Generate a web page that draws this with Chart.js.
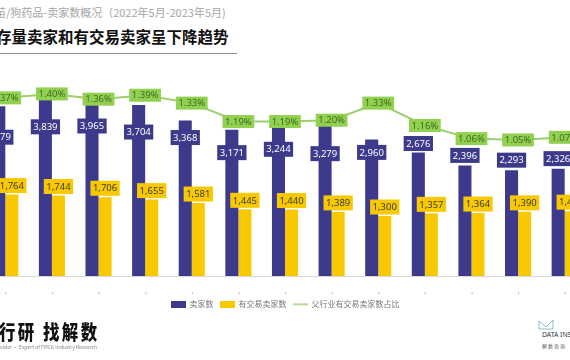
<!DOCTYPE html>
<html>
<head>
<meta charset="utf-8">
<script src="https://cdn.jsdelivr.net/npm/chart.js@4.4.1/dist/chart.umd.min.js"></script>
<style>
  html, body { margin:0; padding:0; background:#fff; }
  body { width:570px; height:360px; overflow:hidden; position:relative;
         font-family:"Noto Sans CJK SC","Noto Sans",sans-serif; }
  #sub { position:absolute; left:-5px; top:4px; font-size:11px; color:#a6a6a6; white-space:nowrap; }
  #title { position:absolute; left:-4px; top:25px; font-size:15.5px; font-weight:bold; color:#111; white-space:nowrap; }
  #rule { position:absolute; left:0; top:53px; width:237px; height:1px; background:#8c8c8c; }
  #wrap { position:absolute; left:-40px; top:60px; width:650px; height:258px; }
  #brand { position:absolute; left:-1px; top:317px; font-size:20px; font-weight:900; color:#111;
           white-space:nowrap; letter-spacing:3px; transform:scaleX(0.82); transform-origin:left top; }
  #slogan { position:absolute; left:-8px; top:343px; font-size:5px; color:#888; white-space:nowrap; }
  #logo { position:absolute; left:538px; top:319px; }
  #logoText { position:absolute; left:542px; top:330px; font-size:6.8px; color:#2b3a4a; white-space:nowrap; font-family:"Noto Sans",sans-serif; }
  #logoSub { position:absolute; left:542px; top:342px; font-size:5px; color:#555; white-space:nowrap; letter-spacing:1px; }
</style>
</head>
<body>
<div id="sub">苗/狗药品-卖家数概况（2022年5月-2023年5月)</div>
<div id="title">存量卖家和有交易卖家呈下降趋势</div>
<div id="rule"></div>
<div id="wrap"><canvas id="chart"></canvas></div>
<div id="brand">行研 找解数</div>
<div id="slogan">Provider · Expert of FMCG Industry Research</div>
<svg id="logo" width="16" height="12" viewBox="0 0 16 12">
  <path d="M1 2 L8 8 L15 1 L15 10 L1 10 Z" fill="none" stroke="#7fb8c8" stroke-width="0.9"/>
</svg>
<div id="logoText">DATA INSIGHT</div>
<div id="logoSub">解数咨询</div>

<script>
// ================== DATA ==================
const months = ["2022-05","2022-06","2022-07","2022-08","2022-09","2022-10","2022-11",
                "2022-12","2023-01","2023-02","2023-03","2023-04","2023-05"];
const sellers = [3679, 3839, 3965, 3704, 3368, 3171, 3244, 3279, 2960, 2676, 2396, 2293, 2326];
const activeSellers = [1764, 1744, 1706, 1655, 1581, 1445, 1440, 1389, 1300, 1357, 1364, 1390, 1405];
const activeShare = [1.37, 1.40, 1.36, 1.39, 1.33, 1.19, 1.19, 1.20, 1.33, 1.16, 1.06, 1.05, 1.07];

// label nudges (px from bar top) so seller labels dodge the line labels
const sellerLabelNudge = [31, 28, 33, 27, 17, 23, 23, 29, 13, -9, -10, -10, -10];

// ================== COLORS ==================
const NAVY = "#3d3a8c";
const YELLOW = "#f8c900";
const GREEN = "#92d050";
const LINE_GREEN = "#9ccf6e";

// legend swatches
function swatch(color, isLine){
  const c = document.createElement("canvas");
  c.width = 15; c.height = 7;
  const g = c.getContext("2d");
  g.fillStyle = color;
  if(isLine) g.fillRect(0, 3, 15, 1.5);
  else g.fillRect(0, 0, 15, 7);
  return c;
}
const swatches = [swatch(NAVY), swatch(YELLOW), swatch(LINE_GREEN, true)];

// ================== VALUE BOXES ==================
const valueBoxes = {
  id: "valueBoxes",
  afterDatasetsDraw(chart){
    const ctx = chart.ctx;
    ctx.save();
    ctx.font = '9.5px "Noto Sans"';
    ctx.textAlign = "center";
    ctx.textBaseline = "middle";
    const box = (x, y, text, bg, fg, h) => {
      const w = ctx.measureText(text).width + 5;
      ctx.fillStyle = bg;
      ctx.fillRect(x - w/2, y - h/2, w, h);
      ctx.fillStyle = fg;
      ctx.fillText(text, x, y + 0.5);
    };
    chart.getDatasetMeta(0).data.forEach((bar, i) => {
      box(bar.x, bar.y + sellerLabelNudge[i], sellers[i].toLocaleString("en-US"), NAVY, "#fff", 15);
    });
    chart.getDatasetMeta(1).data.forEach((bar, i) => {
      box(bar.x, bar.y - 9, activeSellers[i].toLocaleString("en-US"), YELLOW, "#3a3a3a", 15);
    });
    chart.getDatasetMeta(2).data.forEach((pt, i) => {
      box(pt.x, pt.y, activeShare[i].toFixed(2) + "%", GREEN, "#3d6b21", 13);
    });
    ctx.restore();
  }
};

// ================== CHART ==================
new Chart(document.getElementById("chart"), {
  data: {
    labels: months,
    datasets: [
      { type: "bar", label: "卖家数", data: sellers, backgroundColor: NAVY,
        yAxisID: "y", categoryPercentage: 0.56, barPercentage: 1 },
      { type: "bar", label: "有交易卖家数", data: activeSellers, backgroundColor: YELLOW,
        yAxisID: "y", categoryPercentage: 0.56, barPercentage: 1 },
      { type: "line", label: "父行业有交易卖家数占比", data: activeShare, borderColor: LINE_GREEN,
        backgroundColor: LINE_GREEN, borderWidth: 2, pointRadius: 0, tension: 0,
        yAxisID: "y2", order: -1 }
    ]
  },
  options: {
    responsive: true,
    maintainAspectRatio: false,
    animation: false,
    layout: { padding: { left: 22, right: 22, top: 0, bottom: 0 } },
    scales: {
      x: {
        grid: { display: false },
        border: { color: "#d9d9d9" },
        afterFit: (scale) => { scale.height = 18; },
        ticks: {
          autoSkip: false, minRotation: 45, maxRotation: 45, padding: 3,
          color: "#8c8c8c", font: { size: 9, family: "Noto Sans" },
          callback: function(v){ return this.getLabelForValue(v).slice(0, 4) + "…"; }
        }
      },
      y: { display: false, min: 0, max: 4680 },
      y2: { display: false, min: 0.015, max: 1.658 }
    },
    plugins: {
      tooltip: { enabled: false },
      legend: {
        position: "bottom",
        labels: {
          usePointStyle: true, pointStyleWidth: 15, boxHeight: 7,
          padding: 6, color: "#777",
          font: { size: 8, family: "Noto Sans CJK SC" },
          sort: (a, b) => a.datasetIndex - b.datasetIndex,
          generateLabels(chart){
            const items = Chart.defaults.plugins.legend.labels.generateLabels(chart);
            items.forEach(it => it.pointStyle = swatches[it.datasetIndex]);
            return items;
          }
        }
      }
    }
  },
  plugins: [valueBoxes]
});
</script>
</body>
</html>
